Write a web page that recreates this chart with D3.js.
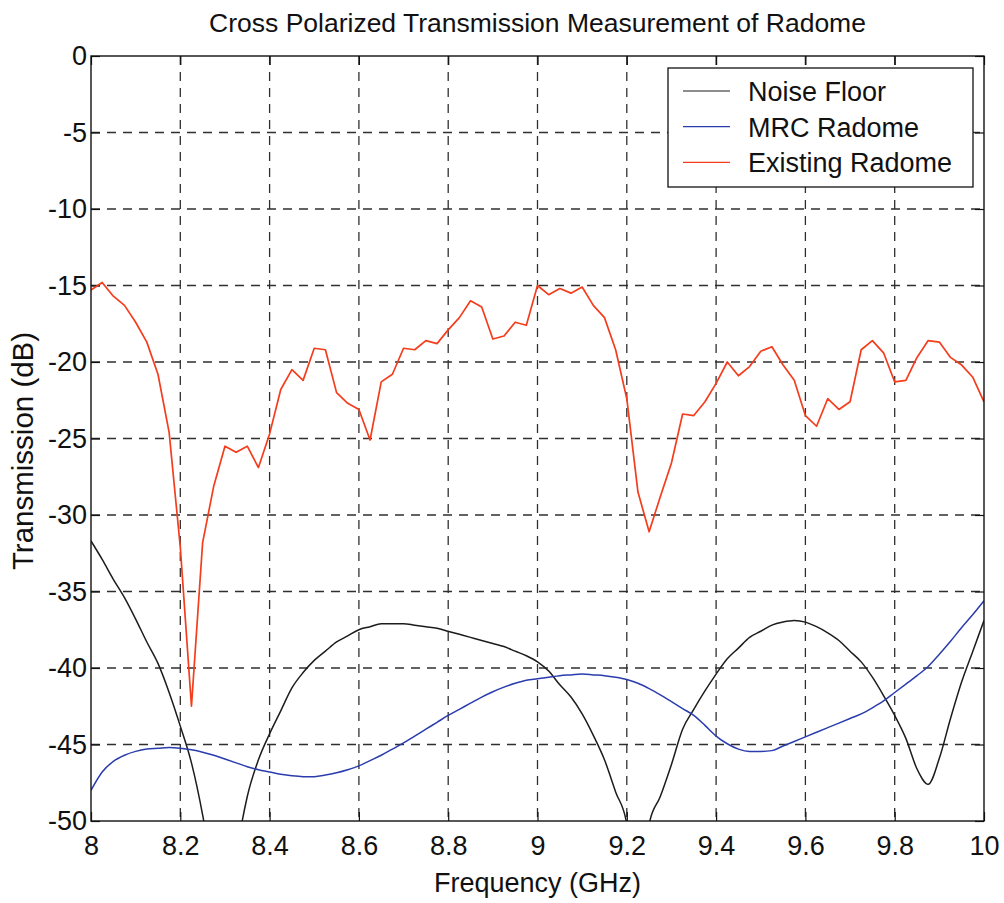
<!DOCTYPE html>
<html>
<head>
<meta charset="utf-8">
<script src="https://cdn.jsdelivr.net/npm/d3@7"></script>
<style>
  html, body { margin: 0; padding: 0; background: #fff; }
  svg { display: block; }
  text { font-family: "Liberation Sans", Arial, Helvetica, sans-serif; fill: #111; }
</style>
</head>
<body>
<svg id="chart" width="1004" height="903"></svg>
<script>
// Frequency sweep (GHz), 25 MHz steps
const freq = [
  8.000, 8.025, 8.050, 8.075, 8.100, 8.125, 8.150, 8.175, 8.200, 8.225,
  8.250, 8.275, 8.300, 8.325, 8.350, 8.375, 8.400, 8.425, 8.450, 8.475,
  8.500, 8.525, 8.550, 8.575, 8.600, 8.625, 8.650, 8.675, 8.700, 8.725,
  8.750, 8.775, 8.800, 8.825, 8.850, 8.875, 8.900, 8.925, 8.950, 8.975,
  9.000, 9.025, 9.050, 9.075, 9.100, 9.125, 9.150, 9.175, 9.200, 9.225,
  9.250, 9.275, 9.300, 9.325, 9.350, 9.375, 9.400, 9.425, 9.450, 9.475,
  9.500, 9.525, 9.550, 9.575, 9.600, 9.625, 9.650, 9.675, 9.700, 9.725,
  9.750, 9.775, 9.800, 9.825, 9.850, 9.875, 9.900, 9.925, 9.950, 9.975,
  10.000
];

// Cross-polarized transmission (dB)
const noiseFloor = [
  -31.7, -32.9, -34.2, -35.4, -36.8, -38.3, -39.7, -41.6, -43.8, -46.2,
  -49.6, -54.0, -60.0, -52.5, -48.4, -46.0, -44.3, -42.8, -41.3, -40.3,
  -39.5, -38.9, -38.3, -37.9, -37.5, -37.3, -37.1, -37.1, -37.1, -37.2,
  -37.3, -37.4, -37.6, -37.8, -38.0, -38.2, -38.4, -38.6, -38.9, -39.2,
  -39.6, -40.2, -41.1, -41.9, -43.0, -44.4, -46.0, -48.1, -50.2, -58.0,
  -50.2, -48.4, -46.3, -44.0, -42.7, -41.5, -40.4, -39.4, -38.7, -38.0,
  -37.6, -37.2, -37.0, -36.9, -37.0, -37.3, -37.7, -38.2, -38.9, -39.6,
  -40.6, -41.8, -43.1, -44.6, -46.6, -47.6, -45.9, -43.3, -40.9, -38.9,
  -36.9
];

const mrcRadome = [
  -48.0, -46.8, -46.1, -45.7, -45.45, -45.3, -45.25, -45.2, -45.25, -45.35,
  -45.5, -45.7, -45.95, -46.2, -46.45, -46.65, -46.8, -46.95, -47.05, -47.1,
  -47.1, -47.0, -46.85, -46.65, -46.4, -46.05, -45.7, -45.3, -44.9, -44.45,
  -44.0, -43.55, -43.1, -42.7, -42.3, -41.9, -41.55, -41.25, -41.0, -40.8,
  -40.7, -40.6, -40.5, -40.45, -40.4, -40.45, -40.5, -40.6, -40.75, -41.0,
  -41.35, -41.75, -42.2, -42.65, -43.1, -43.75, -44.45, -44.95, -45.3, -45.45,
  -45.45, -45.4, -45.1, -44.8, -44.5, -44.2, -43.9, -43.6, -43.3, -43.0,
  -42.6, -42.15, -41.6, -41.05, -40.5, -39.9, -39.1, -38.25, -37.35, -36.5,
  -35.6
];

const existingRadome = [
  -15.3, -14.8, -15.7, -16.3, -17.4, -18.7, -20.8, -24.6, -32.1, -42.5,
  -31.8, -28.1, -25.5, -25.9, -25.5, -26.9, -24.7, -21.8, -20.5, -21.2,
  -19.1, -19.2, -22.0, -22.7, -23.1, -25.1, -21.3, -20.8, -19.1, -19.2,
  -18.6, -18.8, -17.9, -17.1, -16.0, -16.4, -18.5, -18.3, -17.4, -17.6,
  -15.0, -15.6, -15.2, -15.5, -15.1, -16.3, -17.1, -19.2, -22.4, -28.5,
  -31.1, -28.8, -26.6, -23.4, -23.5, -22.6, -21.4, -20.0, -20.9, -20.3,
  -19.3, -19.0, -20.2, -21.2, -23.5, -24.2, -22.4, -23.1, -22.6, -19.2,
  -18.6, -19.4, -21.3, -21.2, -19.7, -18.6, -18.7, -19.7, -20.2, -21.0,
  -22.6
];

const xTicks = [8, 8.2, 8.4, 8.6, 8.8, 9, 9.2, 9.4, 9.6, 9.8, 10];
const yTicks = [0, -5, -10, -15, -20, -25, -30, -35, -40, -45, -50];

const seriesNames = ["Noise Floor", "MRC Radome", "Existing Radome"];
const seriesColors = ["#1c1c1c", "#2a3cae", "#f43d1c"];

const svg = d3.select("#chart");
const plot = { left: 91, right: 984, top: 56, bottom: 821 };

const x = d3.scaleLinear().domain([8, 10]).range([plot.left, plot.right]);
const y = d3.scaleLinear().domain([-50, 0]).range([plot.bottom, plot.top]);

// plain hyphen-minus labels, no trailing zeros
const fmt = v => String(+v.toFixed(1));

// dashed grid
const grid = svg.append("g").attr("class", "grid")
  .attr("stroke", "#2f2f2f").attr("stroke-width", 1.3).attr("stroke-dasharray", "9,7");
grid.selectAll("line.v").data(xTicks.slice(1, -1)).join("line")
  .attr("x1", d => x(d)).attr("x2", d => x(d))
  .attr("y1", plot.top).attr("y2", plot.bottom);
grid.selectAll("line.h").data(yTicks.slice(1, -1)).join("line")
  .attr("x1", plot.left).attr("x2", plot.right)
  .attr("y1", d => y(d)).attr("y2", d => y(d));

// axes with inward ticks on all four sides
const tickLen = 9;
const styleAxis = g => {
  g.select(".domain").remove();
  g.selectAll(".tick line").attr("stroke", "#111").attr("stroke-width", 1.2);
};

svg.append("g").attr("transform", `translate(0,${plot.bottom})`)
  .call(d3.axisBottom(x).tickValues(xTicks).tickFormat(fmt).tickSize(-tickLen).tickPadding(15))
  .call(styleAxis)
  .selectAll("text").attr("font-size", 27).attr("fill", "#111");

svg.append("g").attr("transform", `translate(0,${plot.top})`)
  .call(d3.axisTop(x).tickValues(xTicks).tickFormat("").tickSize(-tickLen))
  .call(styleAxis);

svg.append("g").attr("transform", `translate(${plot.left},0)`)
  .call(d3.axisLeft(y).tickValues(yTicks).tickFormat(fmt).tickSize(-tickLen).tickPadding(4))
  .call(styleAxis)
  .selectAll("text").attr("font-size", 27).attr("fill", "#111");

svg.append("g").attr("transform", `translate(${plot.right},0)`)
  .call(d3.axisRight(y).tickValues(yTicks).tickFormat("").tickSize(-tickLen))
  .call(styleAxis);

// data curves, clipped to the axes box
svg.append("clipPath").attr("id", "plot-clip")
  .append("rect")
  .attr("x", plot.left).attr("y", plot.top)
  .attr("width", plot.right - plot.left).attr("height", plot.bottom - plot.top);

const lines = svg.append("g").attr("clip-path", "url(#plot-clip)");

const smoothLine = d3.line().x((d, i) => x(freq[i])).y(d => y(d)).curve(d3.curveMonotoneX);
const straightLine = d3.line().x((d, i) => x(freq[i])).y(d => y(d));

lines.append("path").datum(noiseFloor)
  .attr("d", smoothLine).attr("fill", "none")
  .attr("stroke", seriesColors[0]).attr("stroke-width", 1.5);
lines.append("path").datum(mrcRadome)
  .attr("d", smoothLine).attr("fill", "none")
  .attr("stroke", seriesColors[1]).attr("stroke-width", 1.5);
lines.append("path").datum(existingRadome)
  .attr("d", straightLine).attr("fill", "none")
  .attr("stroke", seriesColors[2]).attr("stroke-width", 1.7).attr("stroke-linejoin", "round");

// axes box
svg.append("rect")
  .attr("x", plot.left).attr("y", plot.top)
  .attr("width", plot.right - plot.left).attr("height", plot.bottom - plot.top)
  .attr("fill", "none").attr("stroke", "#111").attr("stroke-width", 1.4);

// legend
const legend = svg.append("g");
legend.append("rect")
  .attr("x", 668).attr("y", 68).attr("width", 305).attr("height", 119)
  .attr("fill", "#fff").attr("stroke", "#111").attr("stroke-width", 1.3);
seriesNames.forEach((name, i) => {
  const cy = 91 + i * 35.7;
  legend.append("line")
    .attr("x1", 683).attr("x2", 730).attr("y1", cy).attr("y2", cy)
    .attr("stroke", seriesColors[i]).attr("stroke-width", 1.2);
  legend.append("text")
    .attr("x", 748).attr("y", cy + 10)
    .attr("font-size", 27).text(name);
});

// titles
svg.append("text")
  .attr("x", (plot.left + plot.right) / 2).attr("y", 32)
  .attr("text-anchor", "middle").attr("font-size", 26.5)
  .text("Cross Polarized Transmission Measurement of Radome");

svg.append("text")
  .attr("x", (plot.left + plot.right) / 2).attr("y", 892)
  .attr("text-anchor", "middle").attr("font-size", 27)
  .text("Frequency (GHz)");

svg.append("text")
  .attr("transform", "translate(33,451) rotate(-90)")
  .attr("text-anchor", "middle").attr("font-size", 29.5)
  .text("Transmission (dB)");
</script>
</body>
</html>
